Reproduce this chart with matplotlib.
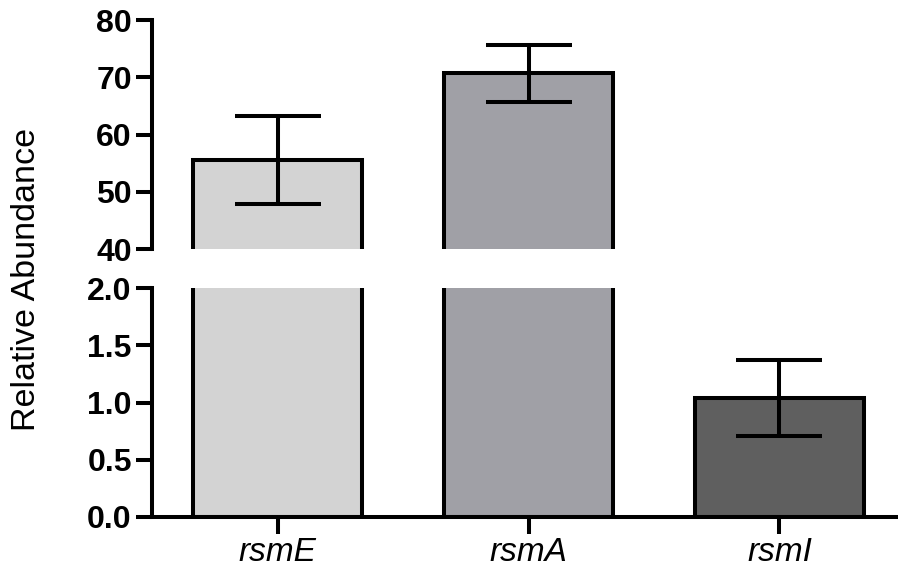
import matplotlib
matplotlib.use("Agg")
import matplotlib.pyplot as plt

genes = ["rsmE", "rsmA", "rsmI"]
abundance = [55.5, 70.7, 1.04]
sem = [7.7, 5.0, 0.335]
bar_colors = ["#d3d3d3", "#a0a0a6", "#5f5f5f"]

top_ticks = [40, 50, 60, 70, 80]
bottom_ticks = [0.0, 0.5, 1.0, 1.5, 2.0]

plt.rcParams["font.family"] = ["Liberation Sans", "DejaVu Sans"]
lw = 2.9

fig = plt.figure(figsize=(8.98, 5.69), dpi=100)
W, H = 898.0, 569.0
ax_top = fig.add_axes([152 / W, 1 - 249 / H, 753 / W, 229 / H])
ax_bot = fig.add_axes([152 / W, 1 - 517 / H, 753 / W, 229 / H])

x = list(range(len(genes)))
for ax in (ax_top, ax_bot):
    ax.bar(x, abundance, width=0.67, color=bar_colors, edgecolor="black",
           linewidth=lw, zorder=2)
    ax.errorbar(x, abundance, yerr=sem, fmt="none", ecolor="black",
                elinewidth=lw, capsize=31, capthick=lw, zorder=3)
    ax.set_xlim(-0.5, 2.5)
    for s in ("top", "right"):
        ax.spines[s].set_visible(False)
    ax.spines["left"].set_linewidth(lw)
    ax.spines["bottom"].set_linewidth(lw)
    ax.tick_params(axis="both", width=lw, length=11.5, labelsize=23)

ax_top.set_ylim(40, 80)
ax_top.set_yticks(top_ticks)
ax_top.set_yticklabels([str(t) for t in top_ticks], fontweight="bold")
ax_top.spines["bottom"].set_visible(False)
ax_top.set_xticks([])
ax_top.tick_params(axis="y", pad=3)

ax_bot.set_ylim(0, 2.0)
ax_bot.set_yticks(bottom_ticks)
ax_bot.set_yticklabels([f"{t:.1f}" for t in bottom_ticks], fontweight="bold")
ax_bot.set_xticks(x)
ax_bot.set_xticklabels(genes, fontstyle="italic", fontsize=24)
ax_bot.tick_params(axis="x", length=12.5, pad=2)
ax_bot.tick_params(axis="y", pad=3)

fig.text(27 / W, 1 - 279 / H, "Relative Abundance", rotation=90,
         ha="center", va="center", fontsize=24.5)

fig.savefig("out.png", dpi=100)
